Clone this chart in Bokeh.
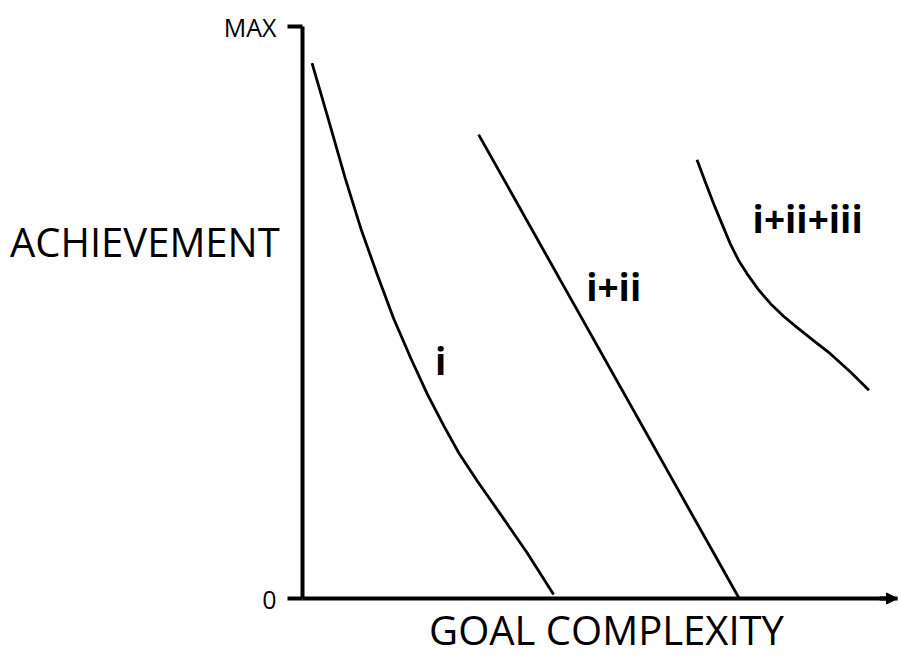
from bokeh.plotting import figure
from bokeh.models import Range1d, LinearAxis, FixedTicker, Label, Arrow, NormalHead
from bokeh.embed import file_html
from bokeh.resources import INLINE

# ---- data ----
goal_i = [1.6, 4.4, 7.2, 9.8, 12.6, 15.3, 18.2, 21.0, 23.8, 26.3, 29.4, 33.3, 37.8, 42.2]
ach_i = [93.6, 83.6, 73.4, 64.7, 56.5, 49.0, 42.0, 35.7, 30.1, 25.4, 20.5, 14.7, 7.9, 0.7]

goal_ii = [29.6, 73.4]
ach_ii = [81.1, 0.0]

goal_iii = [66.3, 67.7, 69.1, 70.5, 71.9, 73.3, 74.7, 76.7, 78.7, 80.9, 83.1, 85.9, 88.7, 92.1, 95.2]
ach_iii = [76.7, 72.8, 69.0, 65.5, 62.0, 59.1, 56.8, 53.9, 51.5, 49.3, 47.4, 45.1, 42.8, 39.6, 36.4]

y_ticks = [0, 100]
y_tick_labels = ["0", "MAX"]

curve_names = ["i", "i+ii", "i+ii+iii"]
x_title = "GOAL COMPLEXITY"
y_title = "ACHIEVEMENT"

FONT = "Open Sans"
PX_X = 5.95   # pixels per goal-complexity unit
PX_Y = 5.72   # pixels per achievement unit
W, H = 899, 657
OX, OY = 302, 598  # pixel position of the origin

p = figure(width=W, height=H,
           x_range=Range1d(-OX / PX_X, (W - OX) / PX_X),
           y_range=Range1d(-(H - OY) / PX_Y, OY / PX_Y),
           x_axis_type=None, y_axis_type=None, toolbar_location=None,
           output_backend="svg", min_border=0)
p.outline_line_color = None
p.background_fill_color = "white"
p.border_fill_color = "white"

# axes (placed at the origin, limited to the 0..100 span)
yaxis = LinearAxis(ticker=FixedTicker(ticks=y_ticks, minor_ticks=[]),
                   major_label_overrides={t: l for t, l in zip(y_ticks, y_tick_labels)},
                   fixed_location=0, bounds=(0, 100),
                   axis_line_width=4, axis_line_color="black",
                   major_tick_line_width=4, major_tick_line_color="black",
                   major_tick_out=15, major_tick_in=0,
                   minor_tick_line_color=None,
                   major_label_standoff=11,
                   major_label_text_font=FONT, major_label_text_font_size="25px",
                   major_label_text_color="black")
p.add_layout(yaxis, "left")

xaxis = LinearAxis(ticker=FixedTicker(ticks=[], minor_ticks=[]),
                   fixed_location=0, bounds=(0, 100),
                   axis_line_width=4, axis_line_color="black",
                   major_tick_line_color=None, minor_tick_line_color=None,
                   major_label_text_font_size="0px")
p.add_layout(xaxis, "below")

p.add_layout(Arrow(end=NormalHead(size=11, fill_color="black", line_color="black"),
                   x_start=97, y_start=0, x_end=100, y_end=0,
                   line_width=4, line_color="black"))

# curves
for gx, gy in [(goal_i, ach_i), (goal_ii, ach_ii), (goal_iii, ach_iii)]:
    p.line(gx, gy, line_width=2.8, line_color="black", line_join="round")

# curve labels
for (lx, ly), txt in zip([(23.2, 41.6), (52.3, 54.6), (84.9, 66.5)], curve_names):
    p.add_layout(Label(x=lx, y=ly, text=txt, text_align="center", text_baseline="alphabetic",
                       text_font=FONT, text_font_style="bold", text_font_size="37px",
                       text_color="black"))

# axis titles
p.add_layout(Label(x=-26.5, y=62.4, text=y_title, text_align="center",
                   text_baseline="alphabetic", text_font=FONT, text_font_size="40px",
                   text_color="black"))
p.add_layout(Label(x=51.1, y=-5.5, text=x_title, text_align="center",
                   text_baseline="alphabetic", text_font=FONT, text_font_size="40px",
                   text_color="black"))

open("out.html", "w").write(file_html(p, INLINE))
